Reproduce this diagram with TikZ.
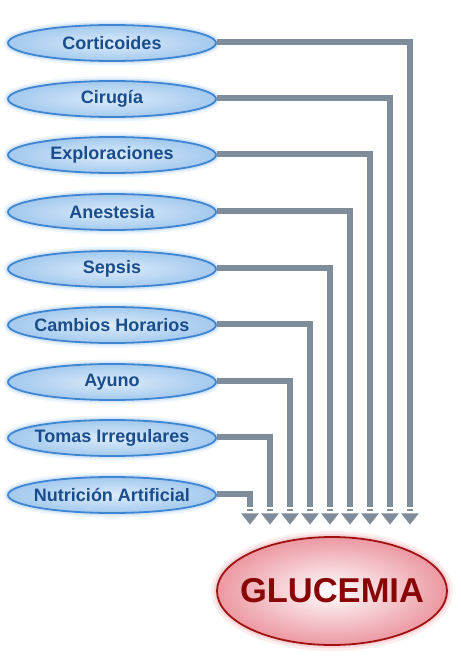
\documentclass[tikz,border=0pt]{standalone}
\usepackage{fontspec}
\setmainfont{Liberation Sans}
\usetikzlibrary{shapes.geometric}
\definecolor{lineg}{HTML}{7F8D9B}
\definecolor{causetext}{HTML}{1A4D8C}
\definecolor{causeborder}{HTML}{3F86D2}
\definecolor{causein}{HTML}{DCECFA}
\definecolor{causeout}{HTML}{A3C9EE}
\definecolor{glowblue}{HTML}{A9CCEE}
\definecolor{gluctext}{HTML}{880606}
\definecolor{glucborder}{HTML}{A01212}
\definecolor{glucout}{HTML}{EC98A2}
\definecolor{glowred}{HTML}{EFA9B0}
\begin{document}
\begin{tikzpicture}[x=1pt,y=-1pt,
  cause/.style={ellipse, minimum width=208pt, minimum height=36pt, inner sep=0pt,
    draw=causeborder, line width=1.8pt, inner color=causein, outer color=causeout,
    text=causetext, font=\bfseries\fontsize{18}{20}\selectfont,
    preaction={draw=glowblue, line width=9pt, opacity=0.2},
    preaction={draw=glowblue, line width=5pt, opacity=0.38}},
  target/.style={ellipse, minimum width=230pt, minimum height=108pt, inner sep=0pt,
    draw=glucborder, line width=1.8pt, inner color=white, outer color=glucout,
    text=gluctext, font=\bfseries\fontsize{34.5}{38}\selectfont,
    preaction={draw=glowred, line width=12pt, opacity=0.2},
    preaction={draw=glowred, line width=6pt, opacity=0.38}},
  conn/.style={draw=lineg, line width=6pt},
  tipbar/.style={fill=lineg},
]
\useasboundingbox (0,0) rectangle (460,663);
\foreach \name/\txt/\y/\x [count=\i] in {
  a/Corticoides/42/410,
  b/Cirugía/98/390,
  c/Exploraciones/154/370,
  d/Anestesia/211/350,
  e/Sepsis/268/330,
  f/Cambios Horarios/324/310,
  g/Ayuno/381/290,
  h/Tomas Irregulares/437/270,
  k/Nutrición Artificial/494/250}{
  \node[cause] (\name) at (112,\y+1) {\makebox[0pt]{\txt}};
  \coordinate (end\name) at (\x,507);
  \draw[conn] (\name.east) ++(0,-1) -| (end\name);
  \fill[tipbar] ([xshift=-3pt,yshift=-2pt]end\name) rectangle ([xshift=3pt,yshift=-4.3pt]end\name);
  \fill[tipbar] ([xshift=-9pt,yshift=-6.3pt]end\name) -- ([xshift=9pt,yshift=-6.3pt]end\name) -- ([yshift=-17.5pt]end\name) -- cycle;
}
\node[target] (gluc) at (332,591) {\makebox[0pt]{GLUCEMIA}};
\end{tikzpicture}
\end{document}
